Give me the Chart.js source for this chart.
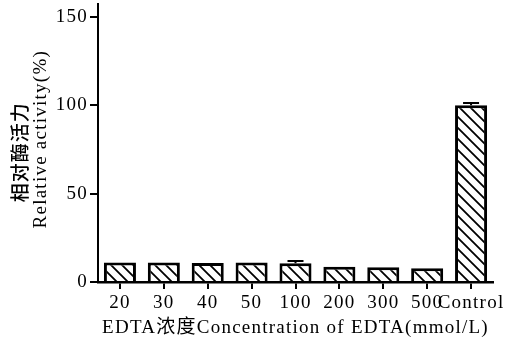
<!DOCTYPE html>
<html>
<head>
<meta charset="utf-8">
<script src="https://cdn.jsdelivr.net/npm/chart.js@4/dist/chart.umd.min.js"></script>
<style>
  html, body { margin: 0; padding: 0; background: #fff; }
  #wrap { width: 530px; height: 344px; }
</style>
</head>
<body>
<div id="wrap"><canvas id="c" width="530" height="344"></canvas></div>
<script>
// EDTA concentration groups and relative activity (%)
const categories = ['20', '30', '40', '50', '100', '200', '300', '500', 'Control'];
const activity = [11, 11, 10.8, 11, 10.6, 8.6, 8.4, 7.8, 100];
const errors = [0, 0, 0, 0, 1.3, 0, 0, 0, 1.2];
const yTicks = [0, 50, 100, 150];

const serif = "'Liberation Serif', 'Noto Sans CJK SC', serif";
const spacing = '1.25px';

// diagonal hatch fill (top-left to bottom-right)
function hatch() {
  const s = 11;
  const p = document.createElement('canvas');
  p.width = s; p.height = s;
  const g = p.getContext('2d');
  g.fillStyle = '#fff';
  g.fillRect(0, 0, s, s);
  g.strokeStyle = '#000';
  g.lineWidth = 1.8;
  g.beginPath();
  g.moveTo(-2, -2); g.lineTo(s + 2, s + 2);
  g.moveTo(-2, s - 2); g.lineTo(2, s + 2);
  g.moveTo(s - 2, -2); g.lineTo(s + 2, 2);
  g.stroke();
  return g.createPattern(p, 'repeat');
}

const spacingPlugin = {
  id: 'spacing',
  beforeLayout(chart) { chart.ctx.letterSpacing = spacing; },
  beforeDraw(chart) { chart.ctx.letterSpacing = spacing; }
};

const errorBars = {
  id: 'errorBars',
  afterDatasetsDraw(chart) {
    const ctx = chart.ctx;
    const meta = chart.getDatasetMeta(0);
    const y = chart.scales.y;
    ctx.save();
    ctx.strokeStyle = '#000';
    ctx.lineWidth = 2;
    meta.data.forEach((bar, i) => {
      if (!errors[i]) return;
      const top = y.getPixelForValue(activity[i] + errors[i]);
      const half = 8;
      ctx.beginPath();
      ctx.moveTo(bar.x, bar.y);
      ctx.lineTo(bar.x, top);
      ctx.moveTo(bar.x - half, top);
      ctx.lineTo(bar.x + half, top);
      ctx.stroke();
    });
    ctx.restore();
  }
};

const yTitle = {
  id: 'yTitle',
  afterDraw(chart) {
    const ctx = chart.ctx;
    const a = chart.chartArea;
    const mid = (a.top + a.bottom) / 2;
    ctx.save();
    ctx.letterSpacing = '1px';
    ctx.fillStyle = '#000';
    ctx.textAlign = 'center';
    ctx.textBaseline = 'middle';
    ctx.translate(20, mid + 9);
    ctx.rotate(-Math.PI / 2);
    ctx.font = "500 19px 'Noto Sans CJK SC'";
    ctx.fillText('相对酶活力', 0, 0);
    ctx.restore();
    ctx.save();
    ctx.letterSpacing = spacing;
    ctx.fillStyle = '#000';
    ctx.textAlign = 'center';
    ctx.textBaseline = 'middle';
    ctx.translate(41, mid - 4);
    ctx.rotate(-Math.PI / 2);
    ctx.font = '19px ' + serif;
    ctx.fillText('Relative activity(%)', 0, 0);
    ctx.restore();
  }
};

new Chart(document.getElementById('c'), {
  type: 'bar',
  data: {
    labels: categories,
    datasets: [{
      data: activity,
      backgroundColor: hatch(),
      borderColor: '#000',
      borderWidth: 3,
      barPercentage: 0.73,
      categoryPercentage: 1
    }]
  },
  options: {
    responsive: false,
    animation: false,
    devicePixelRatio: 1,
    layout: { padding: { top: 0, left: 0, right: 37, bottom: 0 } },
    plugins: { legend: { display: false }, tooltip: { enabled: false } },
    scales: {
      x: {
        offset: true,
        afterFit(s) { s.height = 62; },
        grid: { offset: false, drawOnChartArea: false, drawTicks: true, tickLength: 7, lineWidth: 2, color: '#000' },
        border: { display: true, width: 2.5, color: '#000' },
        ticks: { color: '#000', font: { family: serif, size: 19 }, padding: 3, autoSkip: false, maxRotation: 0, minRotation: 0 },
        title: {
          display: true,
          text: 'EDTA浓度Concentration of EDTA(mmol/L)',
          color: '#000',
          font: { family: serif, size: 19 },
          padding: { top: 0, bottom: 5 }
        }
      },
      y: {
        min: 0,
        max: 157,
        afterFit(s) { s.width = 98; },
        afterBuildTicks(s) { s.ticks = yTicks.map(v => ({ value: v })); },
        grid: { drawOnChartArea: false, drawTicks: true, tickLength: 8, lineWidth: 2, color: '#000' },
        border: { display: true, width: 2, color: '#000' },
        ticks: { color: '#000', font: { family: serif, size: 19, lineHeight: 0.25 }, padding: 2, includeBounds: false }
      }
    }
  },
  plugins: [spacingPlugin, errorBars, yTitle]
});
</script>
</body>
</html>
